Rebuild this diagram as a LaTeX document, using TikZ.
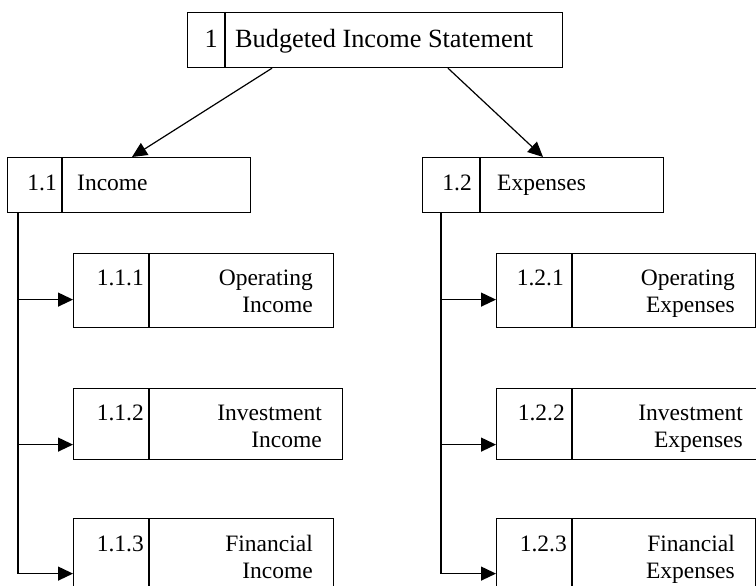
\documentclass[tikz,border=0pt]{standalone}
\usepackage{fontspec}
\setmainfont{Liberation Serif}
\usetikzlibrary{arrows.meta}
\tikzset{
  box/.style={draw, line width=1.2pt, anchor=north west, inner sep=0pt, rectangle},
  divline/.style={line width=1.2pt},
  conn/.style={line width=1.2pt},
  arr/.style={conn, -{Triangle[length=15pt,width=14pt]}},
  num/.style={anchor=base east, inner sep=0pt},
  lbl/.style={anchor=base west, inner sep=0pt},
  rlbl/.style={anchor=base east, inner sep=0pt, align=right},
  bigtxt/.style={font=\fontsize{26.3}{30}\selectfont},
}
\begin{document}
\begin{tikzpicture}[x=1pt,y=-1pt,font=\fontsize{23.5}{27}\selectfont]
\useasboundingbox (0,0) rectangle (756,586);
\clip (0,0) rectangle (756,586);
% boxes
\node[box, minimum width=375pt, minimum height=55pt] (top) at (187,12) {};
\node[box, minimum width=243pt, minimum height=55pt] (inc) at (7,157) {};
\node[box, minimum width=241pt, minimum height=55pt] (exp) at (422,157) {};
\node[box, minimum width=260pt, minimum height=74pt] (c111) at (73,253) {};
\node[box, minimum width=269pt, minimum height=71pt] (c112) at (73,388) {};
\node[box, minimum width=260pt, minimum height=77pt] (c113) at (73,518) {};
\node[box, minimum width=259pt, minimum height=74pt] (c121) at (496,253) {};
\node[box, minimum width=267pt, minimum height=71pt] (c122) at (496,388) {};
\node[box, minimum width=259pt, minimum height=77pt] (c123) at (496,518) {};
% dividers
\draw[divline] ([xshift=38pt]top.north west) -- ([xshift=38pt]top.south west);
\draw[divline] ([xshift=55pt]inc.north west) -- ([xshift=55pt]inc.south west);
\draw[divline] ([xshift=58pt]exp.north west) -- ([xshift=58pt]exp.south west);
\foreach \b in {c111,c112,c113,c121,c122,c123}{
  \draw[divline] ([xshift=76pt]\b.north west) -- ([xshift=76pt]\b.south west);
}
% texts
\node[num, bigtxt] (t1n) at (218,48) {1};
\node[lbl, bigtxt] (t1l) at (235,48) {Budgeted Income Statement};
\node[num] (incn) at (57,190) {1.1};
\node[lbl] (incl) at (77,190) {Income};
\node[num] (expn) at (472,190) {1.2};
\node[lbl] (expl) at (497,190) {Expenses};
\node[num] (n111) at (144,285) {1.1.1};
\node[rlbl] (l111) at (313,312) {Operating\\Income};
\node[num] (n112) at (144,420) {1.1.2};
\node[rlbl] (l112) at (322,447) {Investment\\Income};
\node[num] (n113) at (144,551) {1.1.3};
\node[rlbl] (l113) at (313,578) {Financial\\Income};
\node[num] (n121) at (564,285) {1.2.1};
\node[rlbl] (l121) at (735,312) {Operating\\Expenses};
\node[num] (n122) at (565,420) {1.2.2};
\node[rlbl] (l122) at (743,447) {Investment\\Expenses};
\node[num] (n123) at (567,551) {1.2.3};
\node[rlbl] (l123) at (735,578) {Financial\\Expenses};
% connectors
\draw[arr] ([xshift=85pt]top.south west) -- ([xshift=125pt]inc.north west);
\draw[arr] ([xshift=261pt]top.south west) -- ([xshift=121pt]exp.north west);
\coordinate (sl) at ([xshift=11pt]inc.south west);
\coordinate (sr) at ([xshift=19pt]exp.south west);
\draw[arr] (sl) |- ([yshift=-9pt]c111.west);
\draw[arr] (sl) |- ([yshift=-20.5pt]c112.west);
\draw[arr] (sl) |- ([yshift=-16.5pt]c113.west);
\draw[arr] (sr) |- ([yshift=-9pt]c121.west);
\draw[arr] (sr) |- ([yshift=-20.5pt]c122.west);
\draw[arr] (sr) |- ([yshift=-16.5pt]c123.west);
\end{tikzpicture}
\end{document}
